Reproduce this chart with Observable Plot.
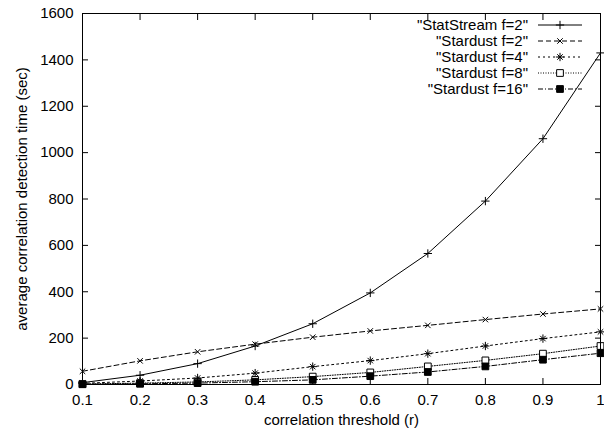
<!DOCTYPE html>
<html><head><meta charset="utf-8">
<script src="https://cdn.jsdelivr.net/npm/d3@7"></script>
<script src="https://cdn.jsdelivr.net/npm/@observablehq/plot@0.6"></script>
<style>
body{margin:0;background:#fff;}
#chart svg{display:block;}
</style>
</head><body><div id="chart"></div>
<script>
// ---- data ----
const thresholds = [0.1, 0.2, 0.3, 0.4, 0.5, 0.6, 0.7, 0.8, 0.9, 1.0];
const seriesNames = ['"StatStream f=2"', '"Stardust f=2"', '"Stardust f=4"', '"Stardust f=8"', '"Stardust f=16"'];
const statStreamF2 = [8, 40, 90, 166, 262, 395, 565, 791, 1060, 1430];
const stardustF2   = [57, 102, 141, 174, 204, 231, 255, 280, 304, 326];
const stardustF4   = [5, 15, 28, 49, 77, 103, 133, 166, 198, 227];
const stardustF8   = [2, 6, 11, 20, 34, 52, 78, 104, 133, 166];
const stardustF16  = [1, 3, 6, 12, 20, 36, 54, 78, 107, 135];
const xTicks = [0.1, 0.2, 0.3, 0.4, 0.5, 0.6, 0.7, 0.8, 0.9, 1.0];
const yTicks = [0, 200, 400, 600, 800, 1000, 1200, 1400, 1600];
const xTitle = "correlation threshold (r)";
const yTitle = "average correlation detection time (sec)";

const seriesValues = [statStreamF2, stardustF2, stardustF4, stardustF8, stardustF16];
const rows = seriesNames.flatMap((s, i) => thresholds.map((r, j) => ({series: s, r, t: seriesValues[i][j]})));

// ---- styles ----
const styles = [
  {dash: null,        symbols: ["plus"],                fill: "none"},
  {dash: "5,3",       symbols: ["times"],               fill: "none"},
  {dash: "2,3",       symbols: ["plus", "times"],       fill: "none"},
  {dash: "1,1.5",     symbols: ["square"],              fill: "white"},
  {dash: "5,2,1,2",   symbols: ["square"],              fill: "black"}
];
const FONT = "'Liberation Sans', Arial, Helvetica, sans-serif";
const fmt = d => String(+d.toFixed(1));
const symR = {plus: 2.8, times: 2.6, square: 3.8};

const marks = [];
seriesNames.forEach((s, i) => {
  const st = styles[i];
  const d = rows.filter(r => r.series === s);
  marks.push(Plot.line(d, {x: "r", y: "t", stroke: "black", strokeWidth: 1, strokeDasharray: st.dash || undefined}));
  st.symbols.forEach(sym => {
    marks.push(Plot.dot(d, {x: "r", y: "t", symbol: sym, r: symR[sym],
      stroke: "black", strokeWidth: 1, fill: sym === "square" ? st.fill : "none"}));
  });
});

const chart = Plot.plot({
  width: 604,
  height: 435,
  marginLeft: 82,
  marginRight: 4,
  marginTop: 13,
  marginBottom: 51,
  style: {fontFamily: FONT, fontSize: "15px", background: "white", color: "black"},
  x: {domain: [0.1, 1], label: null},
  y: {domain: [0, 1600], label: null},
  marks: [
    ...marks,
    Plot.frame({stroke: "black", strokeWidth: 1}),
    Plot.axisX({ticks: xTicks, tickSize: 0, tickPadding: 10, tickFormat: fmt, label: null, fontSize: 15}),
    Plot.axisX({ticks: xTicks, anchor: "bottom", tickSize: -6, text: null, label: null}),
    Plot.axisX({ticks: xTicks, anchor: "top", tickSize: -6, text: null, label: null}),
    Plot.axisY({ticks: yTicks, tickSize: 0, tickPadding: 9, tickFormat: d => String(d), label: null, fontSize: 15}),
    Plot.axisY({ticks: yTicks, anchor: "left", tickSize: -6, text: null, label: null}),
    Plot.axisY({ticks: yTicks, anchor: "right", tickSize: -6, text: null, label: null}),
    Plot.text([xTitle], {frameAnchor: "bottom", text: d => d, dy: 40, fontSize: 15, fill: "black"}),
    Plot.text([yTitle], {frameAnchor: "left", text: d => d, textAnchor: "middle", rotate: -90, dx: -60, fontSize: 15, fill: "black"})
  ]
});
document.getElementById("chart").appendChild(chart);

// ---- legend (gnuplot style, top right inside frame) ----
const svg = d3.select(chart);
const lg = svg.append("g").attr("font-family", FONT).attr("font-size", 15);
seriesNames.forEach((s, i) => {
  const st = styles[i];
  const y = 25 + 16 * i;
  lg.append("text").attr("x", 528).attr("y", y).attr("dy", "0.35em")
    .attr("text-anchor", "end").attr("fill", "black").text(s);
  lg.append("line").attr("x1", 538).attr("x2", 582).attr("y1", y).attr("y2", y)
    .attr("stroke", "black").attr("stroke-width", 1)
    .attr("stroke-dasharray", st.dash);
  st.symbols.forEach(sym => {
    const type = {plus: d3.symbolPlus, times: d3.symbolTimes, square: d3.symbolSquare}[sym];
    const r = symR[sym];
    lg.append("path").attr("transform", `translate(560,${y})`)
      .attr("d", d3.symbol(type, Math.PI * r * r)())
      .attr("stroke", "black").attr("stroke-width", 1)
      .attr("fill", sym === "square" ? st.fill : "none");
  });
});
</script>
</body></html>
